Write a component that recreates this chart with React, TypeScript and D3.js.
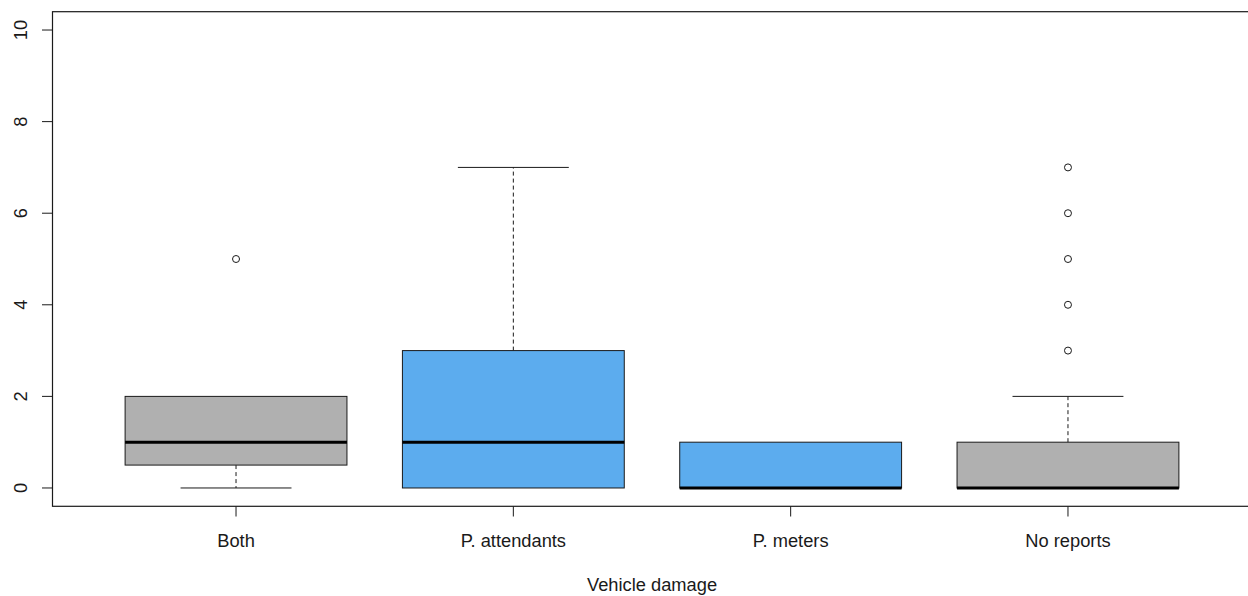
import React from "react";
import * as d3 from "d3";

const categories = ["Both", "P. attendants", "P. meters", "No reports"];
const whiskerLow = [0, 0, 0, 0];
const q1 = [0.5, 0, 0, 0];
const medians = [1, 1, 0, 0];
const q3 = [2, 3, 1, 1];
const whiskerHigh = [2, 7, 1, 2];
const outliers = [[5], [], [], [3, 4, 5, 6, 7]];
const fills = ["#B0B0B0", "#5CACEE", "#5CACEE", "#B0B0B0"];
const yTicks = [0, 2, 4, 6, 8, 10];
const xTitle = "Vehicle damage";

const W = 1248;
const H = 596;

export default function App() {
  const x = d3.scaleLinear().domain([0.34, 4.66]).range([53, 1251]);
  const y = d3.scaleLinear().domain([-0.4, 10.4]).range([506.3, 11.7]);
  const unit = x(2) - x(1);
  const bw = unit * 0.8;
  const cw = bw / 2;
  const font = "'Liberation Sans', Arial, sans-serif";
  const ink = "#1a1a1a";
  const fs = 18.3;

  return (
    <svg
      width={W}
      height={H}
      style={{ position: "absolute", left: 0, top: 0, background: "#fff" }}
      fontFamily={font}
    >
      <rect x={0} y={0} width={W} height={H} fill="#fff" />
      {categories.map((c, i) => {
        const cx = x(i + 1);
        return (
          <g key={c}>
            {whiskerHigh[i] > q3[i] && (
              <>
                <line x1={cx} x2={cx} y1={y(q3[i])} y2={y(whiskerHigh[i])} stroke={ink} strokeDasharray="4,3" />
                <line x1={cx - cw / 2} x2={cx + cw / 2} y1={y(whiskerHigh[i])} y2={y(whiskerHigh[i])} stroke={ink} />
              </>
            )}
            {whiskerLow[i] < q1[i] && (
              <>
                <line x1={cx} x2={cx} y1={y(q1[i])} y2={y(whiskerLow[i])} stroke={ink} strokeDasharray="4,3" />
                <line x1={cx - cw / 2} x2={cx + cw / 2} y1={y(whiskerLow[i])} y2={y(whiskerLow[i])} stroke={ink} />
              </>
            )}
            <rect
              x={cx - bw / 2}
              y={y(q3[i])}
              width={bw}
              height={y(q1[i]) - y(q3[i])}
              fill={fills[i]}
              stroke={ink}
              strokeWidth={1}
            />
            <line x1={cx - bw / 2} x2={cx + bw / 2} y1={y(medians[i])} y2={y(medians[i])} stroke="#000" strokeWidth={3} />
            {outliers[i].map((o, j) => (
              <circle key={j} cx={cx} cy={y(o)} r={3.5} fill="none" stroke={ink} strokeWidth={1} />
            ))}
            <line x1={cx} x2={cx} y1={506.3} y2={516.5} stroke={ink} />
            <text x={cx} y={546.5} textAnchor="middle" fontSize={fs} fill={ink}>
              {c}
            </text>
          </g>
        );
      })}
      <rect x={52.5} y={11.7} width={1251 - 52.5} height={506.3 - 11.7} fill="none" stroke={ink} strokeWidth={1.2} />
      {yTicks.map((t) => (
        <g key={t}>
          <line x1={42} x2={52.5} y1={y(t)} y2={y(t)} stroke={ink} />
          <text
            transform={`translate(27,${y(t)}) rotate(-90)`}
            textAnchor="middle"
            fontSize={fs}
            fill={ink}
          >
            {t}
          </text>
        </g>
      ))}
      <text x={652} y={591} textAnchor="middle" fontSize={fs} fill={ink}>
        {xTitle}
      </text>
    </svg>
  );
}
